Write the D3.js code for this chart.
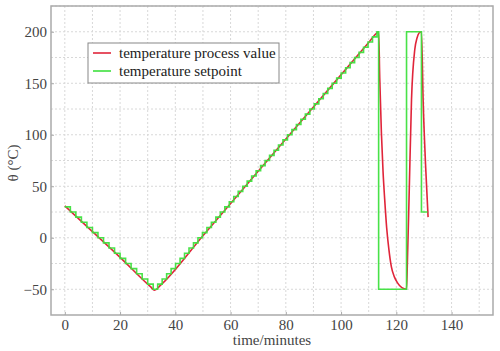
<!DOCTYPE html>
<html>
<head>
<meta charset="utf-8">
<script src="https://cdn.jsdelivr.net/npm/d3@7"></script>
<style>
  body { margin: 0; background: #fff; }
  svg text { font-family: "Liberation Serif", "Times New Roman", Times, serif; }
</style>
</head>
<body>
<svg id="chart"></svg>
<script>
// Setpoint staircase (time in minutes, temperature in °C), drawn as steps
const setpointTime = [
  0, 2, 4, 6, 8, 10, 12, 14, 16, 18, 20, 22, 24, 26, 28, 30, 32,
  33.62, 35.24, 36.86, 38.48, 40.1, 41.72, 43.34, 44.96, 46.58, 48.2,
  49.82, 51.44, 53.06, 54.68, 56.3, 57.92, 59.54, 61.16, 62.78, 64.4,
  66.02, 67.64, 69.26, 70.88, 72.5, 74.12, 75.74, 77.36, 78.98, 80.6,
  82.22, 83.84, 85.46, 87.08, 88.7, 90.32, 91.94, 93.56, 95.18, 96.8,
  98.42, 100.04, 101.66, 103.28, 104.9, 106.52, 108.14, 109.76, 111.38, 113,
  113.6, 123.7, 129.1, 131.3
];
const setpointTemp = [
  30, 25, 20, 15, 10, 5, 0, -5, -10, -15, -20, -25, -30, -35, -40, -45, -50,
  -45, -40, -35, -30, -25, -20, -15, -10, -5, 0,
  5, 10, 15, 20, 25, 30, 35, 40, 45, 50,
  55, 60, 65, 70, 75, 80, 85, 90, 95, 100,
  105, 110, 115, 120, 125, 130, 135, 140, 145, 150,
  155, 160, 165, 170, 175, 180, 185, 190, 195, 200,
  -50, 200, 25, 25
];

// Process value (smooth)
const processTime = [
  0, 10, 20, 31, 32.5, 34.5, 50, 70, 90, 110, 113, 113.6, 114.0, 114.6, 115.2,
  115.8, 116.5, 117.3, 118.2, 119.3, 120.5, 122, 123.7, 124.0, 124.6, 125.5,
  126.7, 127.5, 128.3, 129.1, 129.7, 130.6, 131.5
];
const processTemp = [
  31, 6, -19, -47.5, -51, -46.5, 2, 64.5, 127, 189.5, 199, 200, 155, 102, 64,
  37, 10, -11, -28, -38, -44, -48.5, -50, -25, 37, 134,
  183, 194, 199, 200, 134, 70, 20
];

const xTicks = [0, 20, 40, 60, 80, 100, 120, 140];
const yTicks = [-50, 0, 50, 100, 150, 200];
const xGrid = d3.range(0, 151, 10);
const yGrid = d3.range(-50, 226, 25);

const margin = { top: 6, right: 7, bottom: 36, left: 51 };
const width = 500 - margin.left - margin.right;
const height = 351 - margin.top - margin.bottom;

const svg = d3.select("#chart")
  .attr("width", 500)
  .attr("height", 351);

const g = svg.append("g")
  .attr("transform", `translate(${margin.left}, ${margin.top})`);

// Scales
const x = d3.scaleLinear().domain([-5, 155]).range([0, width]);
const y = d3.scaleLinear().domain([-75, 225]).range([height, 0]);

// Grid
g.selectAll(".vgrid").data(xGrid).enter().append("line")
  .attr("x1", d => x(d)).attr("x2", d => x(d))
  .attr("y1", 0).attr("y2", height)
  .attr("stroke", "#d8d8d8").attr("stroke-dasharray", "2,2");

g.selectAll(".hgrid").data(yGrid).enter().append("line")
  .attr("x1", 0).attr("x2", width)
  .attr("y1", d => y(d)).attr("y2", d => y(d))
  .attr("stroke", "#d8d8d8").attr("stroke-dasharray", "2,2");

// Axes (ticks pointing inward, no domain path)
const xAxis = g.append("g")
  .attr("transform", `translate(0, ${height})`)
  .call(d3.axisBottom(x).tickValues(xTicks).tickSize(-3).tickPadding(4));
const yAxis = g.append("g")
  .call(d3.axisLeft(y).tickValues(yTicks).tickSize(-3).tickPadding(4));

[xAxis, yAxis].forEach(a => {
  a.attr("font-family", null);
  a.select(".domain").remove();
  a.selectAll(".tick line").attr("stroke", "#aaa");
  a.selectAll("text")
    .attr("font-size", 15)
    .attr("fill", "#444");
});

// Frame
g.append("rect")
  .attr("width", width).attr("height", height)
  .attr("fill", "none")
  .attr("stroke", "#aaa")
  .attr("stroke-width", 1.5);

// Lines
const setpointData = setpointTime.map((t, i) => ({ t, v: setpointTemp[i] }));
const processData = processTime.map((t, i) => ({ t, v: processTemp[i] }));

const stepLine = d3.line().x(d => x(d.t)).y(d => y(d.v)).curve(d3.curveStepAfter);
const smoothLine = d3.line().x(d => x(d.t)).y(d => y(d.v)).curve(d3.curveMonotoneX);

g.append("path")
  .datum(processData)
  .attr("d", smoothLine)
  .attr("fill", "none")
  .attr("stroke", "#e0253a")
  .attr("stroke-width", 1.6);

g.append("path")
  .datum(setpointData)
  .attr("d", stepLine)
  .attr("fill", "none")
  .attr("stroke", "#3ee03e")
  .attr("stroke-width", 1.6)
  .attr("stroke-opacity", 0.95);

// Axis titles
svg.append("text")
  .attr("x", margin.left + width / 2)
  .attr("y", 345)
  .attr("text-anchor", "middle")
  .attr("font-size", 15)
  .attr("fill", "#444")
  .text("time/minutes");

svg.append("text")
  .attr("transform", "translate(18, 163) rotate(-90)")
  .attr("text-anchor", "middle")
  .attr("font-size", 15)
  .attr("fill", "#444")
  .text("θ (°C)");

// Legend
const legendItems = [
  { label: "temperature process value", color: "#e0253a" },
  { label: "temperature setpoint", color: "#3ee03e" }
];

const legend = svg.append("g").attr("transform", "translate(88, 43)");
legend.append("rect")
  .attr("width", 191).attr("height", 40)
  .attr("fill", "#fff")
  .attr("stroke", "#888")
  .attr("stroke-width", 1);

const item = legend.selectAll(".item").data(legendItems).enter().append("g")
  .attr("transform", (d, i) => `translate(0, ${10 + i * 18})`);
item.append("line")
  .attr("x1", 5).attr("x2", 23)
  .attr("stroke", d => d.color)
  .attr("stroke-width", 1.6);
item.append("text")
  .attr("x", 31).attr("y", 5)
  .attr("font-size", 15)
  .attr("fill", "#222")
  .text(d => d.label);
</script>
</body>
</html>
